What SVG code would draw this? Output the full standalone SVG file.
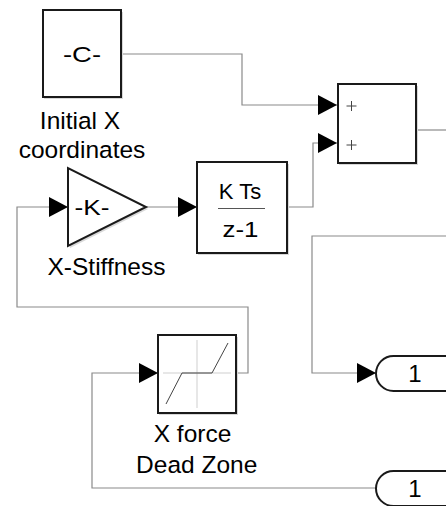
<svg xmlns="http://www.w3.org/2000/svg" width="446" height="506" viewBox="0 0 446 506">
<defs>
<style>
.blk{fill:#fff;stroke:#1a1a1a;stroke-width:2}
.sh{fill:#d8d8d8;stroke:none}
.ln{fill:none;stroke:#8a8a8a;stroke-width:1.2}
.lbl{font-family:"Liberation Sans",Arial,sans-serif;font-size:24.5px;fill:#000;text-anchor:middle}
.btx{font-family:"Liberation Sans",Arial,sans-serif;font-size:22px;fill:#000;text-anchor:middle}
.ptx{font-family:"Liberation Sans",Arial,sans-serif;font-size:24px;fill:#000;text-anchor:middle}
.thin{fill:none;stroke:#444;stroke-width:1}
.axis{fill:none;stroke:#cfcfcf;stroke-width:1}
</style>
<marker id="arr" markerUnits="userSpaceOnUse" markerWidth="20" markerHeight="20" refX="19" refY="10" orient="auto" viewBox="0 0 20 20">
<path d="M0,0 L19,10 L0,20 Z" fill="#000"/>
</marker>
</defs>
<rect width="446" height="506" fill="#fff"/>

<g id="connectors">
<path class="ln" d="M122,54 H242 V105 H337" marker-end="url(#arr)"/>
<path class="ln" d="M287,207 H313 V143 H337" marker-end="url(#arr)"/>
<path class="ln" d="M416,130 H446"/>
<path class="ln" d="M446,236 H312 V373 H376" marker-end="url(#arr)"/>
<path class="ln" d="M146,207 H197" marker-end="url(#arr)"/>
<path class="ln" d="M237,373 H248 V307 H17 V207 H68" marker-end="url(#arr)"/>
<path class="ln" d="M376,488 H92 V373 H158" marker-end="url(#arr)"/>
</g>

<g id="constant">
<rect class="sh" x="44" y="12" width="79" height="87"/>
<rect class="blk" x="43" y="10" width="78" height="87"/>
<text class="btx" x="82" y="62" textLength="38" lengthAdjust="spacingAndGlyphs">-C-</text>
<text class="lbl" x="80" y="129">Initial X</text>
<text class="lbl" x="82" y="158">coordinates</text>
</g>

<g id="sum">
<rect class="sh" x="339" y="86" width="79" height="79"/>
<rect class="blk" x="338" y="84" width="78" height="79"/>
<path class="thin" d="M346.5,106 H356.5 M351.5,101 V111 M346.5,145 H356.5 M351.5,140 V150"/>
</g>

<g id="gain">
<polygon class="sh" points="70,170 70,248 148,209"/>
<polygon class="blk" points="68,168 68,246 146,207"/>
<text class="btx" x="92" y="215" textLength="35" lengthAdjust="spacingAndGlyphs">-K-</text>
<text class="lbl" x="106.5" y="275">X-Stiffness</text>
</g>

<g id="integrator">
<rect class="sh" x="198" y="164" width="91" height="91"/>
<rect class="blk" x="197" y="162" width="90" height="91"/>
<text class="btx" x="240" y="199">K Ts</text>
<line x1="218" y1="208.5" x2="265" y2="208.5" stroke="#555" stroke-width="1"/>
<text class="btx" x="240.5" y="237" textLength="36" lengthAdjust="spacingAndGlyphs">z-1</text>
</g>

<g id="deadzone">
<rect class="sh" x="159" y="337" width="79" height="78"/>
<rect class="blk" x="158" y="335" width="78" height="78"/>
<path class="axis" d="M197,340 V408 M163,373 H231"/>
<path class="thin" d="M166,404 L182,373 H212 L228,343"/>
<text class="lbl" x="192.5" y="442">X force</text>
<text class="lbl" x="196.7" y="473">Dead Zone</text>
</g>

<g id="outport1">
<rect class="blk" x="376" y="356" width="110" height="35" rx="17.5"/>
<text class="ptx" x="415" y="382">1</text>
</g>

<g id="outport2">
<rect class="blk" x="376" y="471" width="110" height="35" rx="17.5"/>
<text class="ptx" x="415" y="497">1</text>
</g>
</svg>
